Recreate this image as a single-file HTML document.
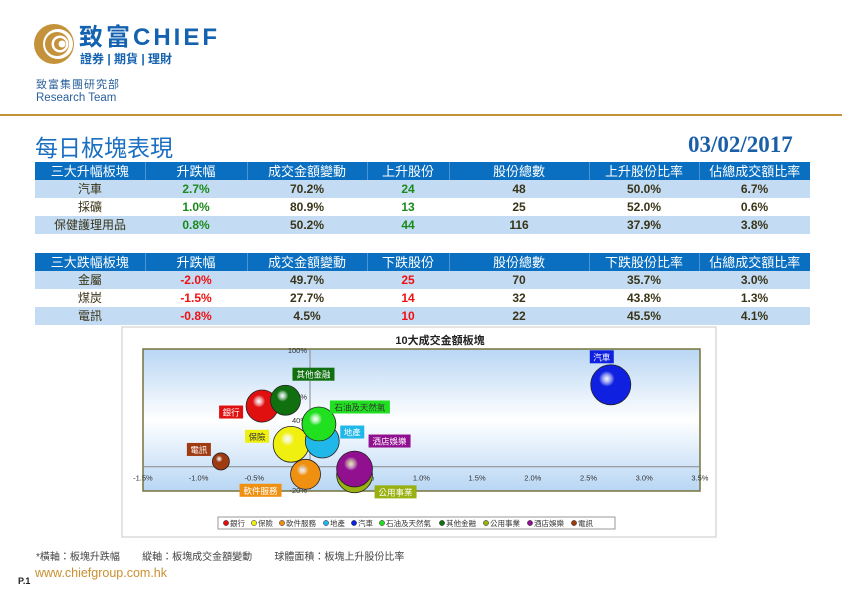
<!DOCTYPE html>
<html><head><meta charset="utf-8">
<style>
*{margin:0;padding:0;box-sizing:border-box}
body{width:842px;height:595px;background:#fff;position:relative;overflow:hidden;font-family:"Liberation Sans","Noto Sans CJK TC",sans-serif}
.abs{position:absolute}
table{position:absolute;left:35px;width:775px;border-collapse:collapse;table-layout:fixed}
td{height:18px;text-align:center;font-size:12px;font-weight:bold;color:#3a3418;padding:0;line-height:17px}
tr.h td{background:#0a6fc0;color:#fff;font-weight:normal;font-size:13px;border-left:1px solid #4b95d6}
tr.h td:first-child{border-left:none}
tr.b td{background:#c3dcf4}
td.n{font-weight:normal}
.g{color:#1a8a1a!important}.r{color:#f01010!important}
</style></head><body>
<svg class="abs" style="left:34px;top:23px" width="40" height="42">
<circle cx="20" cy="21" r="20" fill="#c4923a"/><circle cx="24" cy="21" r="15" fill="#fff"/><circle cx="23" cy="21" r="12" fill="#c4923a"/><circle cx="26" cy="21" r="8.5" fill="#fff"/><circle cx="26" cy="21" r="6" fill="#c4923a"/><circle cx="28" cy="21" r="3.5" fill="#fff"/>
</svg>
<div class="abs" style="left:79px;top:26px;font-size:24px;line-height:24px;font-weight:bold;color:#1462b0;letter-spacing:3px">致富CHIEF</div>
<div class="abs" style="left:80px;top:53px;font-size:12px;line-height:13px;color:#1462b0;font-weight:bold">證券 | 期貨 | 理財</div>
<div class="abs" style="left:36px;top:76px;font-size:11px;color:#2a5f9a;letter-spacing:1px">致富集團研究部</div>
<div class="abs" style="left:36px;top:92px;font-size:11.5px;color:#2a5f9a">Research Team</div>
<div class="abs" style="left:0;top:114px;width:842px;height:2px;background:#c4923a"></div>
<div class="abs" style="left:35px;top:129px;font-size:23px;color:#1a6fc0">每日板塊表現</div>
<div class="abs" style="left:688px;top:132px;font-family:'Liberation Serif',serif;font-size:23px;font-weight:bold;color:#1a5fa8">03/02/2017</div>

<table style="top:162px">
<colgroup><col style="width:110px"><col style="width:102px"><col style="width:120px"><col style="width:82px"><col style="width:140px"><col style="width:110px"><col style="width:111px"></colgroup>
<tr class="h"><td>三大升幅板塊</td><td>升跌幅</td><td>成交金額變動</td><td>上升股份</td><td>股份總數</td><td>上升股份比率</td><td>佔總成交額比率</td></tr>
<tr class="b"><td class="n">汽車</td><td class="g">2.7%</td><td>70.2%</td><td class="g">24</td><td>48</td><td>50.0%</td><td>6.7%</td></tr>
<tr><td class="n">採礦</td><td class="g">1.0%</td><td>80.9%</td><td class="g">13</td><td>25</td><td>52.0%</td><td>0.6%</td></tr>
<tr class="b"><td class="n">保健護理用品</td><td class="g">0.8%</td><td>50.2%</td><td class="g">44</td><td>116</td><td>37.9%</td><td>3.8%</td></tr>
</table>
<table style="top:253px">
<colgroup><col style="width:110px"><col style="width:102px"><col style="width:120px"><col style="width:82px"><col style="width:140px"><col style="width:110px"><col style="width:111px"></colgroup>
<tr class="h"><td>三大跌幅板塊</td><td>升跌幅</td><td>成交金額變動</td><td>下跌股份</td><td>股份總數</td><td>下跌股份比率</td><td>佔總成交額比率</td></tr>
<tr class="b"><td class="n">金屬</td><td class="r">-2.0%</td><td>49.7%</td><td class="r">25</td><td>70</td><td>35.7%</td><td>3.0%</td></tr>
<tr><td class="n">煤炭</td><td class="r">-1.5%</td><td>27.7%</td><td class="r">14</td><td>32</td><td>43.8%</td><td>1.3%</td></tr>
<tr class="b"><td class="n">電訊</td><td class="r">-0.8%</td><td>4.5%</td><td class="r">10</td><td>22</td><td>45.5%</td><td>4.1%</td></tr>
</table>

<svg class="abs" style="left:0;top:0" width="842" height="595" id="chart">
<defs>
<linearGradient id="bg" x1="0" y1="0" x2="0" y2="1"><stop offset="0" stop-color="#b8d6f4"/><stop offset="0.5" stop-color="#ffffff"/><stop offset="1" stop-color="#b8d6f4"/></linearGradient>
</defs>
<rect x="122" y="327" width="594" height="210" fill="#fff" stroke="#c8c8c8"/>
<text x="440" y="344" text-anchor="middle" font-size="11" font-weight="bold" fill="#222">10大成交金額板塊</text>
<rect x="143" y="349" width="557" height="142" fill="url(#bg)" stroke="#77733a" stroke-width="1.5"/>
<g id="axes"></g><g id="bubbles"></g><g id="labels"></g>
<rect x="218" y="517" width="397" height="12" fill="#fff" stroke="#999"/>
<g id="legend"></g>
</svg>

<div class="abs" style="left:36px;top:548px;font-size:10px;color:#444;white-space:pre">*橫軸：板塊升跌幅        縱軸：板塊成交金額變動        球體面積：板塊上升股份比率</div>
<div class="abs" style="left:18px;top:576px;font-size:9px;font-weight:bold;color:#222">P.1</div>
<div class="abs" style="left:35px;top:566px;font-size:12.5px;color:#c8902f">www.chiefgroup.com.hk</div>

<script>
const sectors=["銀行","保險","軟件服務","地產","汽車","石油及天然氣","其他金融","公用事業","酒店娛樂","電訊"];
const changePct=[-0.43,-0.17,-0.04,0.11,2.7,0.08,-0.22,0.4,0.4,-0.8];
const turnoverPct=[52,19.2,-6.5,22,70.2,36.6,57,-7,-2,4.5];
const riseRatio=[32,40,28,36,50,36,28,40,40,9];
const colors=["#e01010","#f0f010","#f09010","#20b8e8","#1020e0","#20e020","#107010","#98b010","#901090","#a03a10"];
const xTicks=[-1.5,-1.0,-0.5,0,0.5,1.0,1.5,2.0,2.5,3.0,3.5];
const yTicks=[-20,0,20,40,60,80,100];
const labelOff=[[-31,6],[-34,-8],[-45,16],[30,-9],[-9,-28],[41,-17],[28,-26],[41,17],[35,-28],[-22,-12]];
const NS="http://www.w3.org/2000/svg";
const X=v=>310+(v)*111.4;
const Y=v=>466.7-v*1.1667;
const R=v=>2.83*Math.sqrt(v);
function mk(t,a,p){const e=document.createElementNS(NS,t);for(const k in a)e.setAttribute(k,a[k]);p.appendChild(e);return e;}
const ax=document.getElementById('axes');
let l=mk('line',{x1:143,x2:700,y1:Y(0),y2:Y(0),stroke:'#888'},ax);


l=mk('line',{x1:X(0),x2:X(0),y1:349,y2:491,stroke:'#888'},ax);


xTicks.forEach(t=>{const e=mk('text',{x:X(t),y:Y(0)+14,'text-anchor':'middle','font-size':7.5,fill:'#333'},ax);e.textContent=t.toFixed(1)+'%';

});
yTicks.forEach(t=>{const e=mk('text',{x:X(0)-3,y:Y(t)+3,'text-anchor':'end','font-size':7.5,fill:'#333'},ax);e.textContent=t+'%';

});
const defs=document.querySelector('defs');
colors.forEach((c,i)=>{const g=mk('radialGradient',{id:'g'+i,cx:'0.4',cy:'0.35',r:'0.65'},defs);mk('stop',{offset:'0','stop-color':'#fff','stop-opacity':'0.6'},g);mk('stop',{offset:'0.3','stop-color':c},g);mk('stop',{offset:'1','stop-color':c},g);});
const bg=document.getElementById('bubbles'),lg=document.getElementById('labels');
const order=sectors.map((s,i)=>i).sort((a,b)=>riseRatio[b]-riseRatio[a]);
order.forEach(i=>{const cx=X(changePct[i]),cy=Y(turnoverPct[i]);
const c=mk('circle',{cx:cx,cy:cy,r:R(riseRatio[i]),fill:'url(#g'+i+')',stroke:'#222','stroke-width':0.8},bg);


const lx=cx+labelOff[i][0],ly=cy+labelOff[i][1],w=sectors[i].length*9+6;
const r=mk('rect',{x:lx-w/2,y:ly-6.5,width:w,height:13,fill:colors[i]},lg);


const t=mk('text',{x:lx,y:ly+3.5,'text-anchor':'middle','font-size':8.5,fill:(i==1||i==5)?'#333':'#fff'},lg);t.textContent=sectors[i];

});
const leg=document.getElementById('legend');let lxp=226;
sectors.forEach((s,i)=>{const c=mk('circle',{cx:lxp,cy:523,r:2.6,fill:colors[i],stroke:'#222','stroke-width':0.5},leg);


const t=mk('text',{x:lxp+4,y:526,'font-size':7.5,fill:'#333'},leg);t.textContent=s;


lxp+=s.length*8+12;});
</script>
</body></html>
